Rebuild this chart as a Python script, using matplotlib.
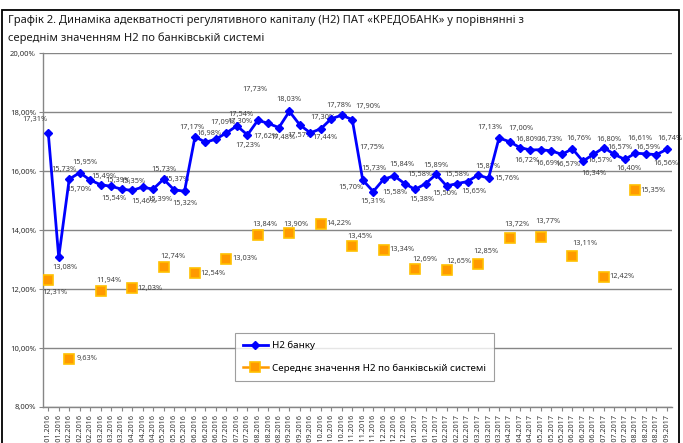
import matplotlib
matplotlib.use('Agg')
import matplotlib.pyplot as plt
import numpy as np
from matplotlib.patches import Rectangle
from matplotlib.ticker import FuncFormatter

plt.rcParams['font.family'] = ['Noto Sans', 'DejaVu Sans']

# ---------------- data ----------------
dates = [
    "01.01.2016", "21.01.2016",
    "01.02.2016", "11.02.2016", "22.02.2016",
    "01.03.2016", "11.03.2016", "21.03.2016",
    "01.04.2016", "11.04.2016", "21.04.2016",
    "04.05.2016", "11.05.2016", "23.05.2016",
    "01.06.2016", "13.06.2016", "21.06.2016",
    "01.07.2016", "11.07.2016", "21.07.2016",
    "01.08.2016", "11.08.2016", "22.08.2016",
    "01.09.2016", "12.09.2016", "21.09.2016",
    "01.10.2016", "11.10.2016", "21.10.2016",
    "01.11.2016", "11.11.2016", "21.11.2016",
    "01.12.2016", "12.12.2016", "21.12.2016",
    "01.01.2017", "11.01.2017", "21.01.2017",
    "01.02.2017", "10.02.2017", "21.02.2017",
    "01.03.2017", "13.03.2017", "21.03.2017",
    "01.04.2017", "11.04.2017", "21.04.2017",
    "01.05.2017", "11.05.2017", "22.05.2017",
    "01.06.2017", "12.06.2017", "21.06.2017",
    "01.07.2017", "11.07.2017", "21.07.2017",
    "01.08.2017", "11.08.2017", "21.08.2017",
    "01.09.2017",
]

bank_h2 = [
    17.31, 13.08, 15.73, 15.95, 15.70, 15.54, 15.49, 15.39, 15.35, 15.46,
    15.39, 15.73, 15.37, 15.32, 17.17, 16.98, 17.09, 17.30, 17.54, 17.23,
    17.73, 17.62, 17.48, 18.03, 17.57, 17.30, 17.44, 17.78, 17.90, 17.75,
    15.70, 15.31, 15.73, 15.84, 15.58, 15.38, 15.58, 15.89, 15.50, 15.58,
    15.65, 15.87, 15.76, 17.13, 17.00, 16.80, 16.72, 16.73, 16.69, 16.57,
    16.76, 16.34, 16.57, 16.80, 16.57, 16.40, 16.61, 16.59, 16.56, 16.74,
]

system_dates = [
    "01.01.2016", "01.02.2016", "01.03.2016", "01.04.2016", "04.05.2016",
    "01.06.2016", "01.07.2016", "01.08.2016", "01.09.2016", "01.10.2016",
    "01.11.2016", "01.12.2016", "01.01.2017", "01.02.2017", "01.03.2017",
    "01.04.2017", "01.05.2017", "01.06.2017", "01.07.2017", "01.08.2017",
]
system_h2 = [
    12.31, 9.63, 11.94, 12.03, 12.74, 12.54, 13.03, 13.84, 13.90, 14.22,
    13.45, 13.34, 12.69, 12.65, 12.85, 13.72, 13.77, 13.11, 12.42, 15.35,
]

y_ticks = [8, 10, 12, 14, 16, 18, 20]

series_names = ["Н2 банку", "Середнє значення Н2 по банківській системі"]
title_lines = ["Графік 2. Динаміка адекватності регулятивного капіталу (Н2) ПАТ «КРЕДОБАНК» у порівнянні з",
               "середнім значенням Н2 по банківській системі"]

# ---------------- label placement (pixel offsets, image coords: +y = down) ----------------
bank_off = [
    (-13, -13), (6, 10), (-5, -10), (5, -10), (-11, 9), (13, 14), (-7, -10), (-4, -9), (1, -9), (1, 14),
    (7, 10), (0, -10), (3, -10), (0, 12), (-3, -9), (3, -9), (7, -17), (13, -11), (4, -11), (0, 11),
    (-3, -31), (-2, 13), (4, 10), (0, -12), (0, 11), (13, -15), (4, 9), (8, -13), (26, -9), (20, 28),
    (-12, 7), (0, 10), (-10, -11), (8, -11), (-10, 9), (7, 10), (-6, -9), (0, -9), (-2, 8), (0, -9),
    (6, 10), (10, -9), (18, 0), (-9, -10), (11, -13), (8, -8), (-4, 11), (9, -10), (-4, 13), (6, 10),
    (6, -10), (11, 12), (7, 6), (5, -8), (6, -7), (4, 9), (5, -15), (2, -6), (10, 9), (3, -11),
]
sys_off = [
    (7, 13), (18, 0), (8, -10), (18, 0), (9, -11), (18, 0), (18, 0), (7, -10), (7, -9), (18, 0),
    (8, -10), (18, 0), (10, -9), (12, -8), (8, -13), (7, -14), (7, -15), (12, -13), (18, 0), (18, 0),
]

def pct(v):
    return f"{v:.2f}%".replace('.', ',')

W, H = 683, 443
fig = plt.figure(figsize=(W / 100, H / 100), dpi=100)
fig.patch.set_facecolor('white')

left, right, bottom, top = 43, 672, 407, 53.3
ax = fig.add_axes([left / W, 1 - bottom / H, (right - left) / W, (bottom - top) / H])

x = np.arange(len(dates))
sys_x = [dates.index(d) for d in system_dates]

ax.plot(x, bank_h2, color='#0000FF', lw=2.0, marker='D', ms=4.5, mfc='#0000FF', mec='#0000FF',
        label=series_names[0], zorder=4)
ax.plot(sys_x, system_h2, ls='none', marker='s', ms=7.5, mfc='#FF9900', mec='#FFC000', mew=1.2,
        label=series_names[1], zorder=3)

lab_kw = dict(fontsize=5.3, color='#404040', ha='center', va='center', textcoords='offset pixels')
for xi, v, (dx, dy) in zip(x, bank_h2, bank_off):
    ax.annotate(pct(v), (xi, v), xytext=(dx, -dy), **lab_kw)
for xi, v, (dx, dy) in zip(sys_x, system_h2, sys_off):
    ax.annotate(pct(v), (xi, v), xytext=(dx, -dy), **lab_kw)

ax.set_xlim(-0.5, len(dates) - 0.5)
ax.set_ylim(8, 20)
ax.set_yticks(y_ticks)
ax.yaxis.set_major_formatter(FuncFormatter(lambda v, p: pct(v)))
ax.grid(axis='y', color='#868686', lw=1.0)
ax.set_axisbelow(True)
for s in ['top', 'right']:
    ax.spines[s].set_visible(False)
for s in ['left', 'bottom']:
    ax.spines[s].set_color('#868686')
    ax.spines[s].set_linewidth(1.0)
ax.set_xticks(x)
ax.set_xticklabels(dates, rotation=90, fontsize=5.2, color='#303030')
ax.tick_params(axis='x', length=3, color='#868686', pad=2)
ax.tick_params(axis='y', length=3, color='#868686', labelsize=5.5, labelcolor='#303030', pad=2)

leg = ax.legend(loc='upper left', bbox_to_anchor=((235 - left) / (right - left), 1 - (333 - top) / (bottom - top)),
                frameon=True, fancybox=False, edgecolor='#868686', fontsize=7, handlelength=2.6,
                borderpad=0.8, labelspacing=1.4, handletextpad=0.4, borderaxespad=0)
leg.get_frame().set_linewidth(0.8)
h2 = leg.legend_handles[1]
h2.set_linestyle('-')
h2.set_color('#FF9900')
h2.set_linewidth(1.8)
h2.set_markerfacecolor('#FF9900')
h2.set_markeredgecolor('#FFC000')

fig.text(8 / W, 1 - 21 / H, title_lines[0], fontsize=8, va='center', ha='left', color='#1a1a1a')
fig.text(8 / W, 1 - 38 / H, title_lines[1], fontsize=8, va='center', ha='left', color='#1a1a1a')

fig.patches.append(Rectangle((2 / W, -0.1), 677 / W, 1.1 - 10 / H, transform=fig.transFigure,
                             fill=False, edgecolor='black', lw=1.3))

fig.savefig('out.png', dpi=100)
